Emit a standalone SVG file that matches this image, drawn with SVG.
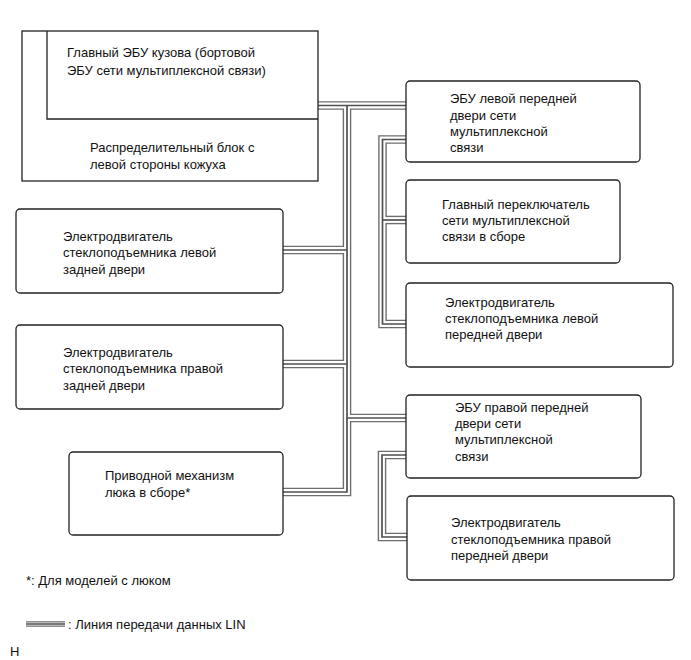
<svg xmlns="http://www.w3.org/2000/svg" xmlns:xlink="http://www.w3.org/1999/xlink" width="691" height="660" viewBox="0 0 691 660">
<style>
  .t { font-family: "Liberation Sans", Arial, sans-serif; font-size: 13px; fill: #111; }
  .box { fill: #fff; stroke: #222; stroke-width: 1.3; }
  .ln { fill: none; stroke: #222; stroke-width: 1.3; }
  .lin-o { fill: none; stroke: #6e6e6e; stroke-width: 8.6; stroke-linejoin: miter; }
  .lin-w { fill: none; stroke: #fff; stroke-width: 5.8; stroke-linejoin: miter; }
  .lin-c { fill: none; stroke: #505050; stroke-width: 1.7; stroke-linejoin: miter; }
</style>
<defs>
  <g id="lin-paths">
    <path d="M318,105.5 H406"/>
    <path d="M347,105.5 V492 H283"/>
    <path d="M283,250 H347"/>
    <path d="M283,364 H347"/>
    <path d="M347,418 H406"/>
    <path d="M406,139.5 H382.5 V324 H406"/>
    <path d="M382.5,220 H406"/>
    <path d="M406,455 H382 V537 H407"/>
  </g>
</defs>
<rect width="691" height="660" fill="#fff"/>
<g id="connectors">
  <use href="#lin-paths" xlink:href="#lin-paths" class="lin-o"/>
  <use href="#lin-paths" xlink:href="#lin-paths" class="lin-w"/>
  <use href="#lin-paths" xlink:href="#lin-paths" class="lin-c"/>
</g>
<g id="main-body-ecu">
  <rect class="box" x="22" y="31" width="296" height="150"/>
  <path class="ln" d="M47,31 V119 H318"/>
  <text class="t" x="67" y="57">Главный ЭБУ кузова (бортовой</text>
  <text class="t" x="67" y="75">ЭБУ сети мультиплексной связи)</text>
  <text class="t" x="90" y="152">Распределительный блок с</text>
  <text class="t" x="90" y="169">левой стороны кожуха</text>
</g>
<g id="ecu-left-front">
  <rect class="box" x="406" y="81" width="234" height="81" rx="4"/>
  <text class="t" x="450" y="103">ЭБУ левой передней</text>
  <text class="t" x="450" y="119.5">двери сети</text>
  <text class="t" x="450" y="136">мультиплексной</text>
  <text class="t" x="450" y="152">связи</text>
</g>
<g id="master-switch">
  <rect class="box" x="406" y="180" width="214" height="83" rx="4"/>
  <text class="t" x="442" y="209">Главный переключатель</text>
  <text class="t" x="442" y="225">сети мультиплексной</text>
  <text class="t" x="442" y="241">связи в сборе</text>
</g>
<g id="motor-left-front">
  <rect class="box" x="406" y="283" width="267" height="84" rx="4"/>
  <text class="t" x="445" y="307">Электродвигатель</text>
  <text class="t" x="445" y="323">стеклоподъемника левой</text>
  <text class="t" x="445" y="339">передней двери</text>
</g>
<g id="ecu-right-front">
  <rect class="box" x="406" y="395" width="235" height="83" rx="4"/>
  <text class="t" x="455" y="412">ЭБУ правой передней</text>
  <text class="t" x="455" y="428">двери сети</text>
  <text class="t" x="455" y="444">мультиплексной</text>
  <text class="t" x="455" y="461">связи</text>
</g>
<g id="motor-right-front">
  <rect class="box" x="407" y="496" width="267" height="84" rx="4"/>
  <text class="t" x="451" y="527">Электродвигатель</text>
  <text class="t" x="451" y="544">стеклоподъемника правой</text>
  <text class="t" x="451" y="560">передней двери</text>
</g>
<g id="motor-left-rear">
  <rect class="box" x="16" y="209" width="267" height="84" rx="4"/>
  <text class="t" x="63" y="241">Электродвигатель</text>
  <text class="t" x="63" y="257">стеклоподъемника левой</text>
  <text class="t" x="63" y="274">задней двери</text>
</g>
<g id="motor-right-rear">
  <rect class="box" x="16" y="325" width="267" height="84" rx="4"/>
  <text class="t" x="63" y="357">Электродвигатель</text>
  <text class="t" x="63" y="373">стеклоподъемника правой</text>
  <text class="t" x="63" y="390">задней двери</text>
</g>
<g id="sunroof-drive">
  <rect class="box" x="69" y="452" width="214" height="83" rx="4"/>
  <text class="t" x="105" y="480">Приводной механизм</text>
  <text class="t" x="105" y="497">люка в сборе*</text>
</g>
<g id="legend">
  <text class="t" x="26" y="585">*: Для моделей с люком</text>
  <path d="M26,624 H65" fill="none" stroke="#6e6e6e" stroke-width="5.4"/>
  <path d="M26,624 H65" fill="none" stroke="#fff" stroke-width="3"/>
  <path d="M26,624 H65" fill="none" stroke="#505050" stroke-width="1.3"/>
  <text class="t" x="68" y="629">: Линия передачи данных LIN</text>
  <text class="t" x="10" y="656">H</text>
</g>
</svg>
